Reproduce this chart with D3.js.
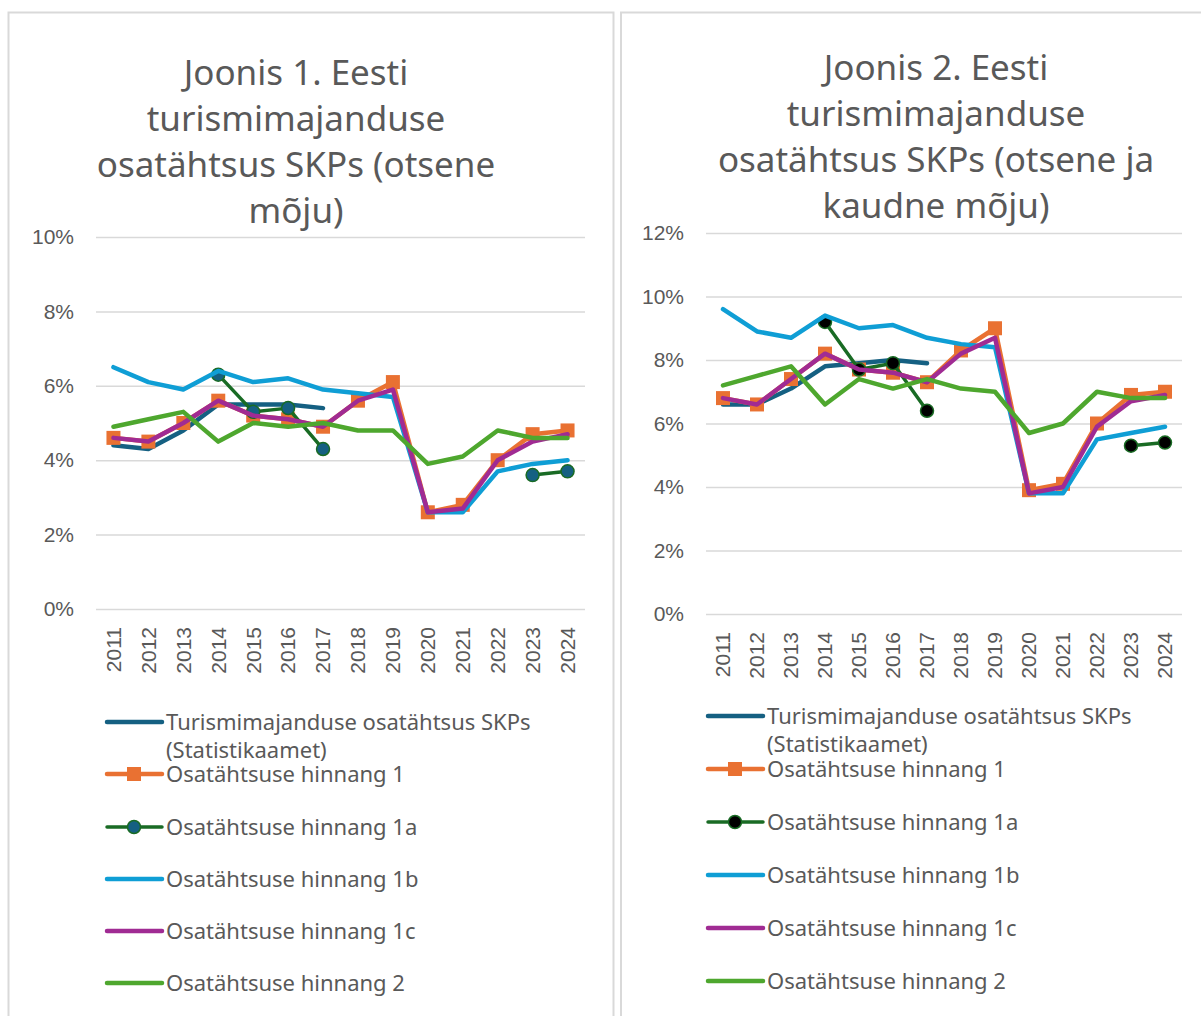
<!DOCTYPE html>
<html>
<head>
<meta charset="utf-8">
<script src="https://cdn.jsdelivr.net/npm/d3@7"></script>
<style>
  body { margin: 0; background: #fff; }
  svg { display: block; }
</style>
</head>
<body>
<script>
const years = [2011, 2012, 2013, 2014, 2015, 2016, 2017, 2018, 2019, 2020, 2021, 2022, 2023, 2024];

const seriesNames = [
  "Turismimajanduse osatähtsus SKPs (Statistikaamet)",
  "Osatähtsuse hinnang 1",
  "Osatähtsuse hinnang 1a",
  "Osatähtsuse hinnang 1b",
  "Osatähtsuse hinnang 1c",
  "Osatähtsuse hinnang 2"
];

// Joonis 1 (otsene mõju), values in %
const stat1 = [4.4, 4.3, 4.8, 5.5, 5.5, 5.5, 5.4, null, null, null, null, null, null, null];
const est1_1 = [4.6, 4.5, 5.0, 5.6, 5.2, 5.1, 4.9, 5.6, 6.1, 2.6, 2.8, 4.0, 4.7, 4.8];
const est1_1a = [null, null, null, 6.3, 5.3, 5.4, 4.3, null, null, null, null, null, 3.6, 3.7];
const est1_1b = [6.5, 6.1, 5.9, 6.4, 6.1, 6.2, 5.9, 5.8, 5.7, 2.6, 2.6, 3.7, 3.9, 4.0];
const est1_1c = [4.6, 4.5, 5.0, 5.6, 5.2, 5.1, 4.9, 5.6, 5.9, 2.6, 2.7, 4.0, 4.5, 4.7];
const est1_2 = [4.9, 5.1, 5.3, 4.5, 5.0, 4.9, 5.0, 4.8, 4.8, 3.9, 4.1, 4.8, 4.6, 4.6];

// Joonis 2 (otsene ja kaudne mõju), values in %
const stat2 = [6.6, 6.6, 7.1, 7.8, 7.9, 8.0, 7.9, null, null, null, null, null, null, null];
const est2_1 = [6.8, 6.6, 7.4, 8.2, 7.7, 7.6, 7.3, 8.3, 9.0, 3.9, 4.1, 6.0, 6.9, 7.0];
const est2_1a = [null, null, null, 9.2, 7.7, 7.9, 6.4, null, null, null, null, null, 5.3, 5.4];
const est2_1b = [9.6, 8.9, 8.7, 9.4, 9.0, 9.1, 8.7, 8.5, 8.4, 3.8, 3.8, 5.5, 5.7, 5.9];
const est2_1c = [6.8, 6.6, 7.4, 8.2, 7.7, 7.6, 7.3, 8.2, 8.7, 3.8, 4.0, 5.9, 6.7, 6.9];
const est2_2 = [7.2, 7.5, 7.8, 6.6, 7.4, 7.1, 7.4, 7.1, 7.0, 5.7, 6.0, 7.0, 6.8, 6.8];

const yTicks1 = [0, 2, 4, 6, 8, 10];
const yTicks2 = [0, 2, 4, 6, 8, 10, 12];

const title1 = ["Joonis 1. Eesti", "turismimajanduse", "osatähtsus SKPs (otsene", "mõju)"];
const title2 = ["Joonis 2. Eesti", "turismimajanduse", "osatähtsus SKPs (otsene ja", "kaudne mõju)"];

const colors = ["#156082", "#E97132", "#196B24", "#0F9ED5", "#A02B93", "#4EA72E"];
const textColor = "#595959";

const svg = d3.select("body").append("svg")
  .attr("width", 1201)
  .attr("height", 1016);

// panel frames
svg.append("rect").attr("x", 8.5).attr("y", 12.5).attr("width", 605).attr("height", 1020)
  .attr("fill", "none").attr("stroke", "#d9d9d9").attr("stroke-width", 2);
svg.append("rect").attr("x", 621).attr("y", 12.5).attr("width", 600).attr("height", 1020)
  .attr("fill", "none").attr("stroke", "#d9d9d9").attr("stroke-width", 2);

function drawChart(cfg) {
  const g = svg.append("g");

  const x = d3.scaleBand().domain(years).range([cfg.left, cfg.right]);
  const y = d3.scaleLinear().domain([0, cfg.yMax]).range([cfg.bottom, cfg.top]);

  // title
  g.append("text")
    .attr("text-anchor", "middle")
    .attr("font-family", "'Noto Sans', sans-serif")
    .attr("font-size", 35)
    .attr("fill", textColor)
    .selectAll("tspan")
    .data(cfg.title)
    .join("tspan")
    .attr("x", cfg.titleX)
    .attr("y", (d, i) => cfg.titleY + i * 46)
    .text(d => d);

  // gridlines + y labels
  const yAxis = d3.axisLeft(y)
    .tickValues(cfg.yTicks)
    .tickSize(-(cfg.right - cfg.left))
    .tickPadding(22)
    .tickFormat(d => d + "%");
  const ya = g.append("g")
    .attr("transform", `translate(${cfg.left},0)`)
    .call(yAxis);
  ya.select(".domain").remove();
  ya.selectAll(".tick line").attr("stroke", "#d9d9d9").attr("stroke-width", 1.5);
  ya.selectAll(".tick text")
    .attr("fill", textColor)
    .attr("font-family", "'Liberation Sans', Arial, sans-serif")
    .attr("font-size", 21);

  // x labels
  const xAxis = d3.axisBottom(x).tickSize(0).tickPadding(0);
  const xa = g.append("g")
    .attr("transform", `translate(0,${cfg.bottom})`)
    .call(xAxis);
  xa.select(".domain").remove();
  xa.selectAll(".tick text")
    .attr("fill", textColor)
    .attr("font-family", "'Liberation Sans', Arial, sans-serif")
    .attr("font-size", 21)
    .attr("transform", "rotate(-90)")
    .attr("text-anchor", "end")
    .attr("x", -18)
    .attr("y", 0)
    .attr("dy", "0.35em");

  const line = d3.line()
    .defined(d => d[1] != null)
    .x(d => x(d[0]) + x.bandwidth() / 2)
    .y(d => y(d[1]));

  const series = cfg.series.map((vals, i) => ({ i, pts: years.map((yr, j) => [yr, vals[j]]) }));

  // lines
  series.forEach(s => {
    const i = s.i;
    g.append("path")
      .datum(s.pts)
      .attr("fill", "none")
      .attr("stroke", colors[i])
      .attr("stroke-width", i === 2 ? 3.5 : 4.5)
      .attr("stroke-linejoin", "round")
      .attr("stroke-linecap", "round")
      .attr("d", line);

    if (i === 1) {
      g.selectAll(null)
        .data(s.pts.filter(d => d[1] != null))
        .join("rect")
        .attr("x", d => x(d[0]) + x.bandwidth() / 2 - 7)
        .attr("y", d => y(d[1]) - 7)
        .attr("width", 14)
        .attr("height", 14)
        .attr("fill", colors[1]);
    }
    if (i === 2) {
      g.selectAll(null)
        .data(s.pts.filter(d => d[1] != null))
        .join("circle")
        .attr("cx", d => x(d[0]) + x.bandwidth() / 2)
        .attr("cy", d => y(d[1]))
        .attr("r", 6.5)
        .attr("fill", cfg.dotFill)
        .attr("stroke", colors[2])
        .attr("stroke-width", 1.5);
    }
  });

  // legend
  const leg = g.append("g")
    .attr("font-family", "'Noto Sans', sans-serif")
    .attr("font-size", 22)
    .attr("fill", textColor);
  const rowY = cfg.legendRows;
  seriesNames.forEach((name, i) => {
    const ly = rowY[i];
    leg.append("line")
      .attr("x1", cfg.legendX).attr("x2", cfg.legendX + 55)
      .attr("y1", ly).attr("y2", ly)
      .attr("stroke", colors[i])
      .attr("stroke-width", i === 2 ? 3.5 : 4.5)
      .attr("stroke-linecap", "round");
    if (i === 1) {
      leg.append("rect")
        .attr("x", cfg.legendX + 20).attr("y", ly - 7)
        .attr("width", 14).attr("height", 14)
        .attr("fill", colors[1]);
    }
    if (i === 2) {
      leg.append("circle")
        .attr("cx", cfg.legendX + 27).attr("cy", ly).attr("r", 6.5)
        .attr("fill", cfg.dotFill).attr("stroke", colors[2]).attr("stroke-width", 1.5);
    }
    const t = leg.append("text")
      .attr("x", cfg.legendX + 59)
      .attr("y", ly)
      .attr("dy", "0.35em");
    if (i === 0) {
      t.text("Turismimajanduse osatähtsus SKPs");
      leg.append("text")
        .attr("x", cfg.legendX + 59)
        .attr("y", ly + 28)
        .attr("dy", "0.35em")
        .text("(Statistikaamet)");
    } else {
      t.text(name);
    }
  });
}

drawChart({
  left: 96, right: 585, top: 237, bottom: 609, yMax: 10, yTicks: yTicks1,
  title: title1, titleX: 296, titleY: 85,
  series: [stat1, est1_1, est1_1a, est1_1b, est1_1c, est1_2],
  dotFill: "#156082",
  legendX: 107, legendRows: [722, 774, 827, 879, 931, 983]
});

drawChart({
  left: 706, right: 1182, top: 233, bottom: 614, yMax: 12, yTicks: yTicks2,
  title: title2, titleX: 936, titleY: 80,
  series: [stat2, est2_1, est2_1a, est2_1b, est2_1c, est2_2],
  dotFill: "#000000",
  legendX: 708, legendRows: [716, 769, 822, 875, 928, 981]
});
</script>
</body>
</html>
